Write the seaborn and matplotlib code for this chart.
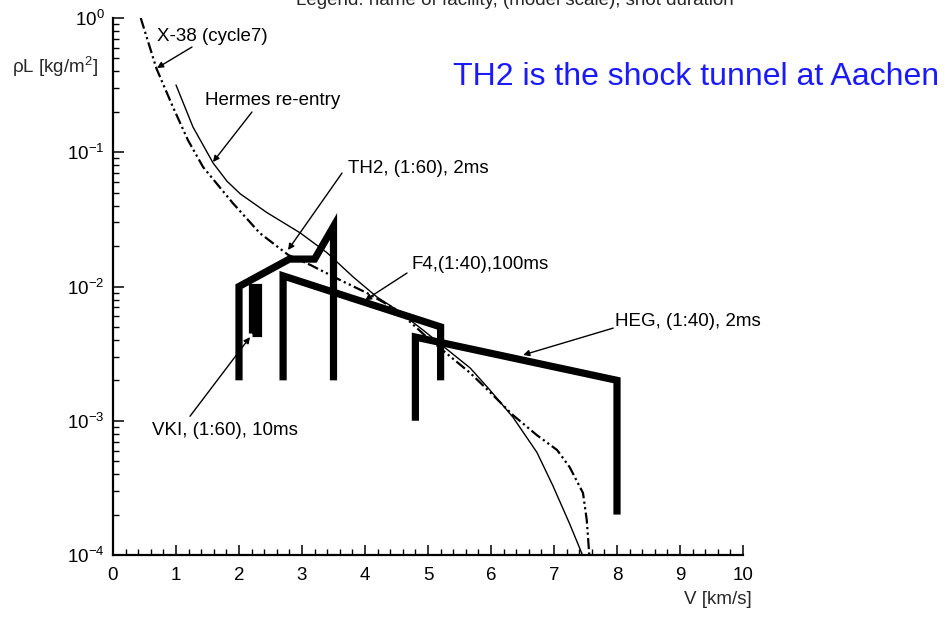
import matplotlib
matplotlib.use("Agg")
import matplotlib.pyplot as plt
from matplotlib.ticker import MultipleLocator, LogLocator, NullFormatter
import seaborn as sns
import pandas as pd

# ---------------- data ----------------
x38_v = [0.44, 0.69, 0.95, 1.19, 1.43, 1.90, 2.33, 2.78, 3.13, 3.60, 4.03, 4.51, 4.98,
         5.67, 5.98, 6.35, 6.73, 7.05, 7.25, 7.46, 7.52, 7.56]
x38_rho = [1.0, 0.42, 0.218, 0.123, 0.0776, 0.0419, 0.0250, 0.0172, 0.0145, 0.0112, 0.00895,
           0.00668, 0.0042, 0.00227, 0.00164, 0.0011, 7.8e-4, 6.05e-4, 4.5e-4, 2.9e-4, 1.82e-4, 1.0e-4]

hermes_v = [1.00, 1.27, 1.59, 1.81, 2.02, 2.44, 2.97, 3.40, 3.81, 4.19, 4.51, 4.92,
            5.67, 5.98, 6.35, 6.73, 6.98, 7.25, 7.46]
hermes_rho = [0.317, 0.154, 0.083, 0.0608, 0.049, 0.0356, 0.0251, 0.0178, 0.0118, 0.00835,
              0.00668, 0.00474, 0.00247, 0.0017, 0.00106, 5.8e-4, 3.3e-4, 1.7e-4, 0.98e-4]

th2_v = [2.0, 2.0, 2.8, 3.2, 3.5, 3.5]
th2_rho = [2e-3, 1e-2, 1.6e-2, 1.6e-2, 2.8e-2, 2e-3]

vki_v = [2.2, 2.2, 2.3, 2.3, 2.2]
vki_rho = [4.5e-3, 1.0e-2, 1.0e-2, 4.5e-3, 4.5e-3]

f4_v = [2.7, 2.7, 5.2, 5.2]
f4_rho = [2e-3, 1.2e-2, 5e-3, 2e-3]

heg_v = [4.8, 4.8, 8.0, 8.0]
heg_rho = [1e-3, 4.2e-3, 2e-3, 2e-4]

labels = ["X-38 (cycle7)", "Hermes re-entry", "TH2, (1:60), 2ms", "F4,(1:40),100ms",
          "HEG, (1:40), 2ms", "VKI, (1:60), 10ms"]

# ---------------- style ----------------
sns.set_theme(style="ticks")
plt.rcParams["font.family"] = ["Liberation Sans", "DejaVu Sans"]
plt.rcParams["mathtext.fontset"] = "custom"
plt.rcParams["mathtext.rm"] = "Liberation Sans"
plt.rcParams["mathtext.it"] = "Liberation Sans:italic"

FS = 13.5

fig = plt.figure(figsize=(9.5, 6.18), dpi=100)
ax = fig.add_axes([113 / 950, 1 - 555 / 618, (743 - 113) / 950, (555 - 18) / 618])

def draw(v, r, **kw):
    df = pd.DataFrame({"V": v, "rho": r})
    sns.lineplot(data=df, x="V", y="rho", sort=False, estimator=None, ax=ax,
                 color="black", **kw)

draw(x38_v, x38_rho, lw=1.6, linestyle=(0, (5, 1.5, 1, 1.5, 1, 1.5)))
draw(hermes_v, hermes_rho, lw=1.0)
for v, r in [(th2_v, th2_rho), (vki_v, vki_rho), (f4_v, f4_rho), (heg_v, heg_rho)]:
    draw(v, r, lw=5.2, solid_joinstyle="miter", solid_capstyle="butt")

ax.set_yscale("log")
ax.set_xlim(0, 10)
ax.set_ylim(1e-4, 1)
ax.set_xlabel("")
ax.set_ylabel("")

for s in ["top", "right"]:
    ax.spines[s].set_visible(False)
for s in ["left", "bottom"]:
    ax.spines[s].set_linewidth(1.6)
    ax.spines[s].set_color("black")

ax.xaxis.set_major_locator(MultipleLocator(1))
ax.xaxis.set_minor_locator(MultipleLocator(0.2))
ax.yaxis.set_major_locator(LogLocator(base=10, numticks=10))
ax.yaxis.set_minor_locator(LogLocator(base=10, subs=range(2, 10), numticks=20))
ax.yaxis.set_minor_formatter(NullFormatter())
ax.tick_params(which="major", direction="in", length=7.5, width=1.1, labelsize=FS,
               colors="black")
ax.tick_params(which="minor", direction="in", length=4, width=1.0, colors="black")
ax.tick_params(axis="y", which="major", length=8, pad=6)
ax.tick_params(axis="x", which="major", pad=9)

# axis labels
fig.text(98 / 950, 1 - 67 / 618, "ρL [kg/m$^{2}$]", ha="right", va="center", fontsize=FS)
fig.text(752 / 950, 1 - 600 / 618, "V [km/s]", ha="right", va="center", fontsize=FS)
fig.text(515 / 950, 1 - 5 / 618, "Legend: name of facility, (model scale), shot duration",
         ha="center", va="baseline", fontsize=FS)
fig.text(453 / 950, 1 - 77 / 618, "TH2 is the shock tunnel at Aachen", ha="left",
         va="center", fontsize=23, color="#1a1aff")

# annotations
text_pos = [(0.70, 0.722), (1.46, 0.245), (3.73, 0.0763), (4.746, 0.0147),
            (7.968, 0.00544), (0.619, 8.39e-4)]
arrows = [((1.254, 0.608), (0.698, 0.424)),
          ((2.206, 0.1995), (1.587, 0.0846)),
          ((3.635, 0.070), (2.778, 0.0187)),
          ((4.667, 0.0126), (4.0, 0.0079)),
          ((7.94, 0.0049), (6.51, 0.00309)),
          ((1.222, 0.00108), (2.175, 0.0042))]
for lab, (tx, ty), (start, tip) in zip(labels, text_pos, arrows):
    ax.text(tx, ty, lab, ha="left", va="center", fontsize=FS, color="black")
    ax.annotate("", xy=tip, xytext=start,
                arrowprops=dict(arrowstyle="-|>", lw=1.0, color="black",
                                mutation_scale=9, shrinkA=0, shrinkB=0))

fig.savefig("out.png", dpi=100)
